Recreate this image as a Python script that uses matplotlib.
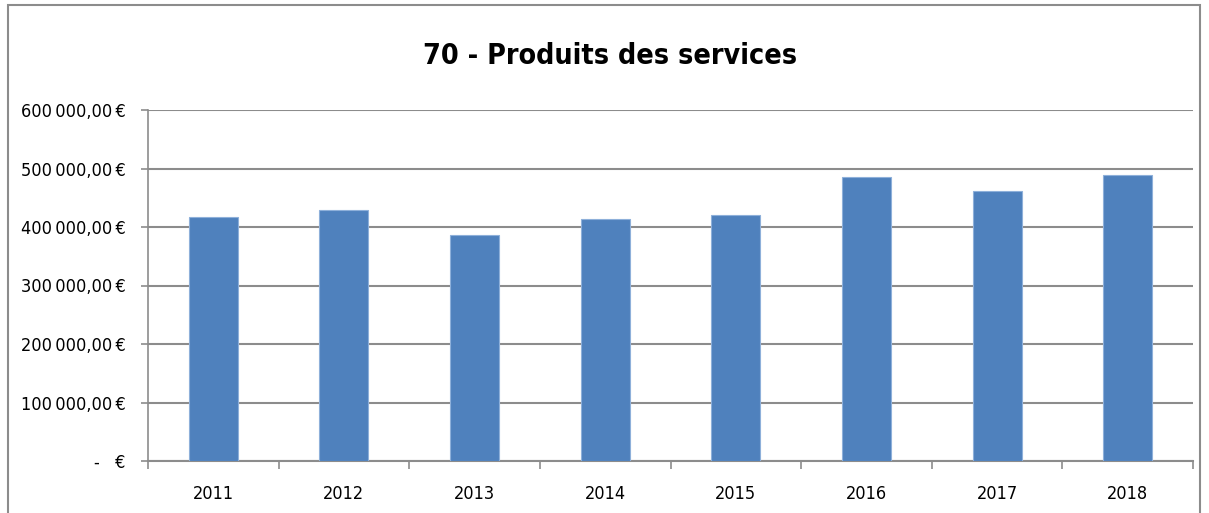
import matplotlib
matplotlib.use("Agg")
import matplotlib.pyplot as plt
from matplotlib.ticker import FuncFormatter, FixedLocator
from matplotlib.patches import Rectangle

years = ["2011", "2012", "2013", "2014", "2015", "2016", "2017", "2018"]
values = [416600, 428500, 385800, 413000, 420500, 485000, 461500, 489000]
yticks = [0, 100000, 200000, 300000, 400000, 500000, 600000]
title = "70 - Produits des services"

FONT = ["Liberation Sans Narrow", "DejaVu Sans"]
plt.rcParams["font.family"] = FONT
plt.rcParams["font.stretch"] = "condensed"

fig = plt.figure(figsize=(12.09, 5.13), dpi=100)
W, H = 1209, 513
ax = fig.add_axes([148 / W, 1 - 461 / H, (1193 - 148) / W, (461 - 110) / H])

x = list(range(len(years)))
ax.bar(x, values, width=0.375, color="#4F81BD", edgecolor="#8EB0DA", linewidth=0.8, zorder=3)

ax.set_xlim(-0.5, len(years) - 0.5)
ax.set_ylim(0, 600000)
ax.set_yticks(yticks)


def fmt(v, pos):
    if v == 0:
        return "-   €"
    s = f"{v:,.2f}".replace(",", "\u202f").replace(".", ",")
    return s + "\u202f€"


ax.yaxis.set_major_formatter(FuncFormatter(fmt))
ax.grid(axis="y", color="#8C8C8C", linewidth=1.5, zorder=0)
ax.set_axisbelow(True)

ax.set_xticks(x)
ax.set_xticklabels(years)
ax.xaxis.set_minor_locator(FixedLocator([i - 0.5 for i in range(len(years) + 1)]))
ax.tick_params(axis="x", which="major", length=0, pad=17, labelsize=13)
ax.tick_params(axis="x", which="minor", length=6, color="#8C8C8C", width=1.2)
ax.tick_params(axis="y", length=5, color="#8C8C8C", width=1.2, labelsize=13, pad=11)

for s in ["top", "right"]:
    ax.spines[s].set_visible(False)
ax.spines["left"].set_color("#8C8C8C")
ax.spines["left"].set_linewidth(1.2)
ax.spines["bottom"].set_color("#8C8C8C")
ax.spines["bottom"].set_linewidth(1.5)

fig.text(610 / W, 1 - 56 / H, title, ha="center", va="center",
         fontsize=20.5, fontweight="bold", family=FONT)

# chart frame
fig.patches.append(Rectangle((8 / W, -0.05), (1200 - 8) / W, 1 - 5 / H + 0.05,
                             transform=fig.transFigure, fill=False,
                             edgecolor="#8C8C8C", linewidth=1.5))

fig.savefig("out.png", dpi=100)
